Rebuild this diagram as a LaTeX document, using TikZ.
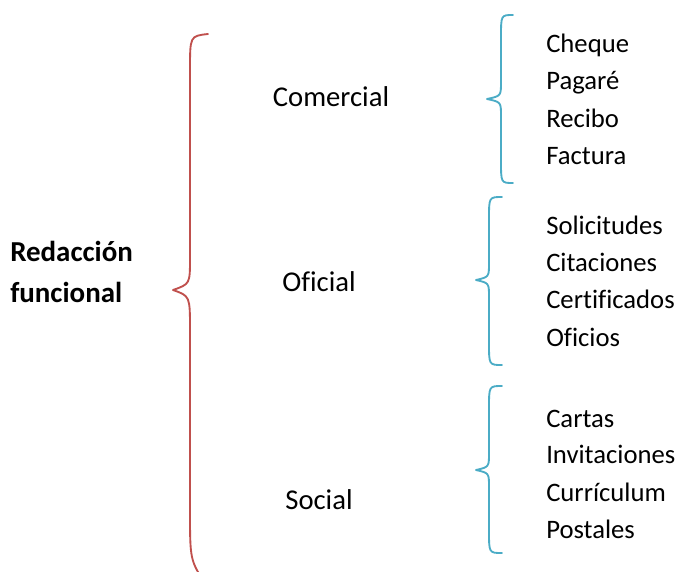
\documentclass[tikz,border=0pt]{standalone}
\usepackage{fontspec}
\setmainfont{Carlito}[Ligatures={NoCommon}]
\usepackage{xcolor}
\definecolor{rojo}{HTML}{C0504D}
\definecolor{azul}{HTML}{4BACC6}

\begin{document}
\begin{tikzpicture}[x=0.75pt,y=-0.75pt,
  raiz/.style={anchor=base west, inner sep=0pt, font=\bfseries\fontsize{21.7}{26}\selectfont},
  tipo/.style={anchor=base, inner sep=0pt, font=\fontsize{21.5}{26}\selectfont},
  doc/.style={anchor=base west, inner sep=0pt, font=\fontsize{20}{24}\selectfont},
  llave/.style={line width=1.4pt, line join=round, line cap=round}]
  \clip (0,0) rectangle (677,571);
  % tema central
  \node[raiz] (redaccion) at (10,261) {Redacción};
  \node[raiz] (funcional) at (10,302) {funcional};
  % llave grande
  \draw[llave, rojo] (208,34) .. controls (190,36) .. (190,70) -- (190,258)
    .. controls (190,284) .. (173,290) .. controls (190,296) .. (190,330)
    -- (190,510) .. controls (190,560) .. (206,585);
  % tipos
  \node[tipo] (comercial) at (331,106) {Comercial};
  \node[tipo] (oficial) at (319,291) {Oficial};
  \node[tipo] (social) at (319,509) {Social};
  % llaves chicas
  \draw[llave, azul] (513,15) .. controls (501,15) .. (501,37) -- (501,82)
    .. controls (501,96) .. (487,99) .. controls (501,102) .. (501,116)
    -- (501,161) .. controls (501,183) .. (513,183);
  \draw[llave, azul] (502,197) .. controls (489,197) .. (489,219) -- (489,263)
    .. controls (489,277) .. (476,280) .. controls (489,283) .. (489,297)
    -- (489,343) .. controls (489,365) .. (502,365);
  \draw[llave, azul] (502,386) .. controls (489,386) .. (489,408) -- (489,453)
    .. controls (489,467) .. (476,470) .. controls (489,473) .. (489,487)
    -- (489,531) .. controls (489,553) .. (502,553);
  % documentos
  \node[doc] (cheque) at (546,52) {Cheque};
  \node[doc] (pagare) at (546,89) {Pagaré};
  \node[doc] (recibo) at (546,127) {Recibo};
  \node[doc] (factura) at (546,164) {Factura};
  \node[doc] (solicitudes) at (546,234) {Solicitudes};
  \node[doc] (citaciones) at (546,271) {Citaciones};
  \node[doc] (certificados) at (546,308) {Certificados};
  \node[doc] (oficios) at (546,346) {Oficios};
  \node[doc] (cartas) at (546,427) {Cartas};
  \node[doc] (invitaciones) at (546,463) {Invitaciones};
  \node[doc] (curriculum) at (546,501) {Currículum};
  \node[doc] (postales) at (546,538) {Postales};
\end{tikzpicture}
\end{document}
